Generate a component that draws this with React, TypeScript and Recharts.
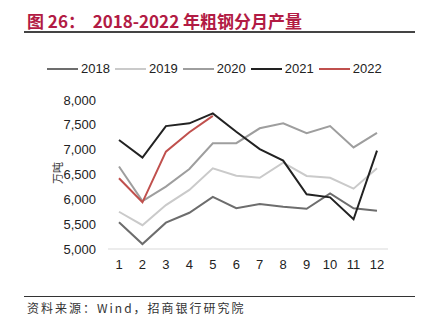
import React from "react";
import { LineChart, Line, XAxis, YAxis } from "recharts";

const months = ["1", "2", "3", "4", "5", "6", "7", "8", "9", "10", "11", "12"];
const y2018 = [5540, 5100, 5530, 5730, 6050, 5820, 5905, 5850, 5810, 6120, 5820, 5770];
const y2019 = [5750, 5480, 5885, 6190, 6625, 6475, 6435, 6740, 6470, 6435, 6215, 6625];
const y2020 = [6660, 5965, 6255, 6610, 7130, 7130, 7430, 7530, 7330, 7475, 7045, 7340];
const y2021 = [7195, 6840, 7475, 7530, 7730, 7360, 7010, 6780, 6100, 6040, 5600, 6980];
const y2022 = [6425, 5940, 6960, 7350, 7680];
const yTicks = [5000, 5500, 6000, 6500, 7000, 7500, 8000];

const series = [
  { key: "y2018", name: "2018", color: "#6d6d6d" },
  { key: "y2019", name: "2019", color: "#cacaca" },
  { key: "y2020", name: "2020", color: "#9e9e9e" },
  { key: "y2021", name: "2021", color: "#222222" },
  { key: "y2022", name: "2022", color: "#c0504d" },
];

const data = months.map((m, i) => ({
  month: m,
  y2018: y2018[i],
  y2019: y2019[i],
  y2020: y2020[i],
  y2021: y2021[i],
  y2022: y2022[i],
}));

const font = "'Liberation Sans', Arial, sans-serif";

export default function App() {
  return (
    <div
      style={{
        position: "absolute",
        left: 0,
        top: 0,
        width: 435,
        height: 324,
        background: "#fff",
        overflow: "hidden",
      }}
    >
      <div
        style={{
          position: "absolute",
          left: 27,
          top: 10,
          fontFamily: "'Noto Sans CJK SC', sans-serif",
          fontWeight: 700,
          fontSize: 17,
          color: "#b21b44",
          whiteSpace: "nowrap",
          lineHeight: "22px",
        }}
      >
        图 26：&nbsp; 2018-2022 年粗钢分月产量
      </div>
      <div style={{ position: "absolute", left: 24, top: 31, width: 391, height: 2, background: "#444" }} />

      {/* legend */}
      <div
        style={{
          position: "absolute",
          left: 47,
          top: 60,
          display: "flex",
          fontFamily: font,
          fontSize: 13,
          color: "#222",
          lineHeight: "18px",
          whiteSpace: "nowrap",
        }}
      >
        {series.map((s) => (
          <div key={s.key} style={{ display: "flex", alignItems: "center", marginRight: 5 }}>
            <div style={{ width: 31, height: 2, background: s.color, marginRight: 3 }} />
            <span>{s.name}</span>
          </div>
        ))}
      </div>

      <div
        style={{
          position: "absolute",
          left: 46,
          top: 166,
          fontFamily: "'Noto Sans CJK SC', sans-serif",
          fontSize: 11,
          color: "#333",
          transform: "rotate(-90deg)",
          whiteSpace: "nowrap",
          lineHeight: "14px",
        }}
      >
        万吨
      </div>

      <div style={{ position: "absolute", left: 0, top: 0 }}>
        <LineChart width={435} height={324} data={data} margin={{ top: 100, right: 47, bottom: 45, left: 48 }}>
          <XAxis
            dataKey="month"
            padding={{ left: 11, right: 11 }}
            tickLine={false}
            axisLine={{ stroke: "#d9d9d9" }}
            tickMargin={5}
            tick={{ fill: "#222", fontSize: 13, fontFamily: font }}
            interval={0}
            height={30}
          />
          <YAxis
            domain={[5000, 8000]}
            ticks={yTicks}
            width={60}
            axisLine={false}
            tickLine={false}
            tickMargin={6}
            tick={{ fill: "#222", fontSize: 13, fontFamily: font }}
            tickFormatter={(v: number) => v.toLocaleString("en-US")}
          />
          {series.map((s) => (
            <Line
              key={s.key}
              type="linear"
              dataKey={s.key}
              stroke={s.color}
              strokeWidth={2}
              dot={false}
              isAnimationActive={false}
            />
          ))}
        </LineChart>
      </div>

      <div style={{ position: "absolute", left: 24, top: 296, width: 391, height: 1, background: "#333" }} />
      <div
        style={{
          position: "absolute",
          left: 27,
          top: 300,
          fontFamily: "'Noto Sans CJK SC', sans-serif",
          fontSize: 12,
          letterSpacing: 2,
          color: "#333",
          whiteSpace: "nowrap",
          lineHeight: "16px",
        }}
      >
        资料来源：Wind，招商银行研究院
      </div>
    </div>
  );
}
